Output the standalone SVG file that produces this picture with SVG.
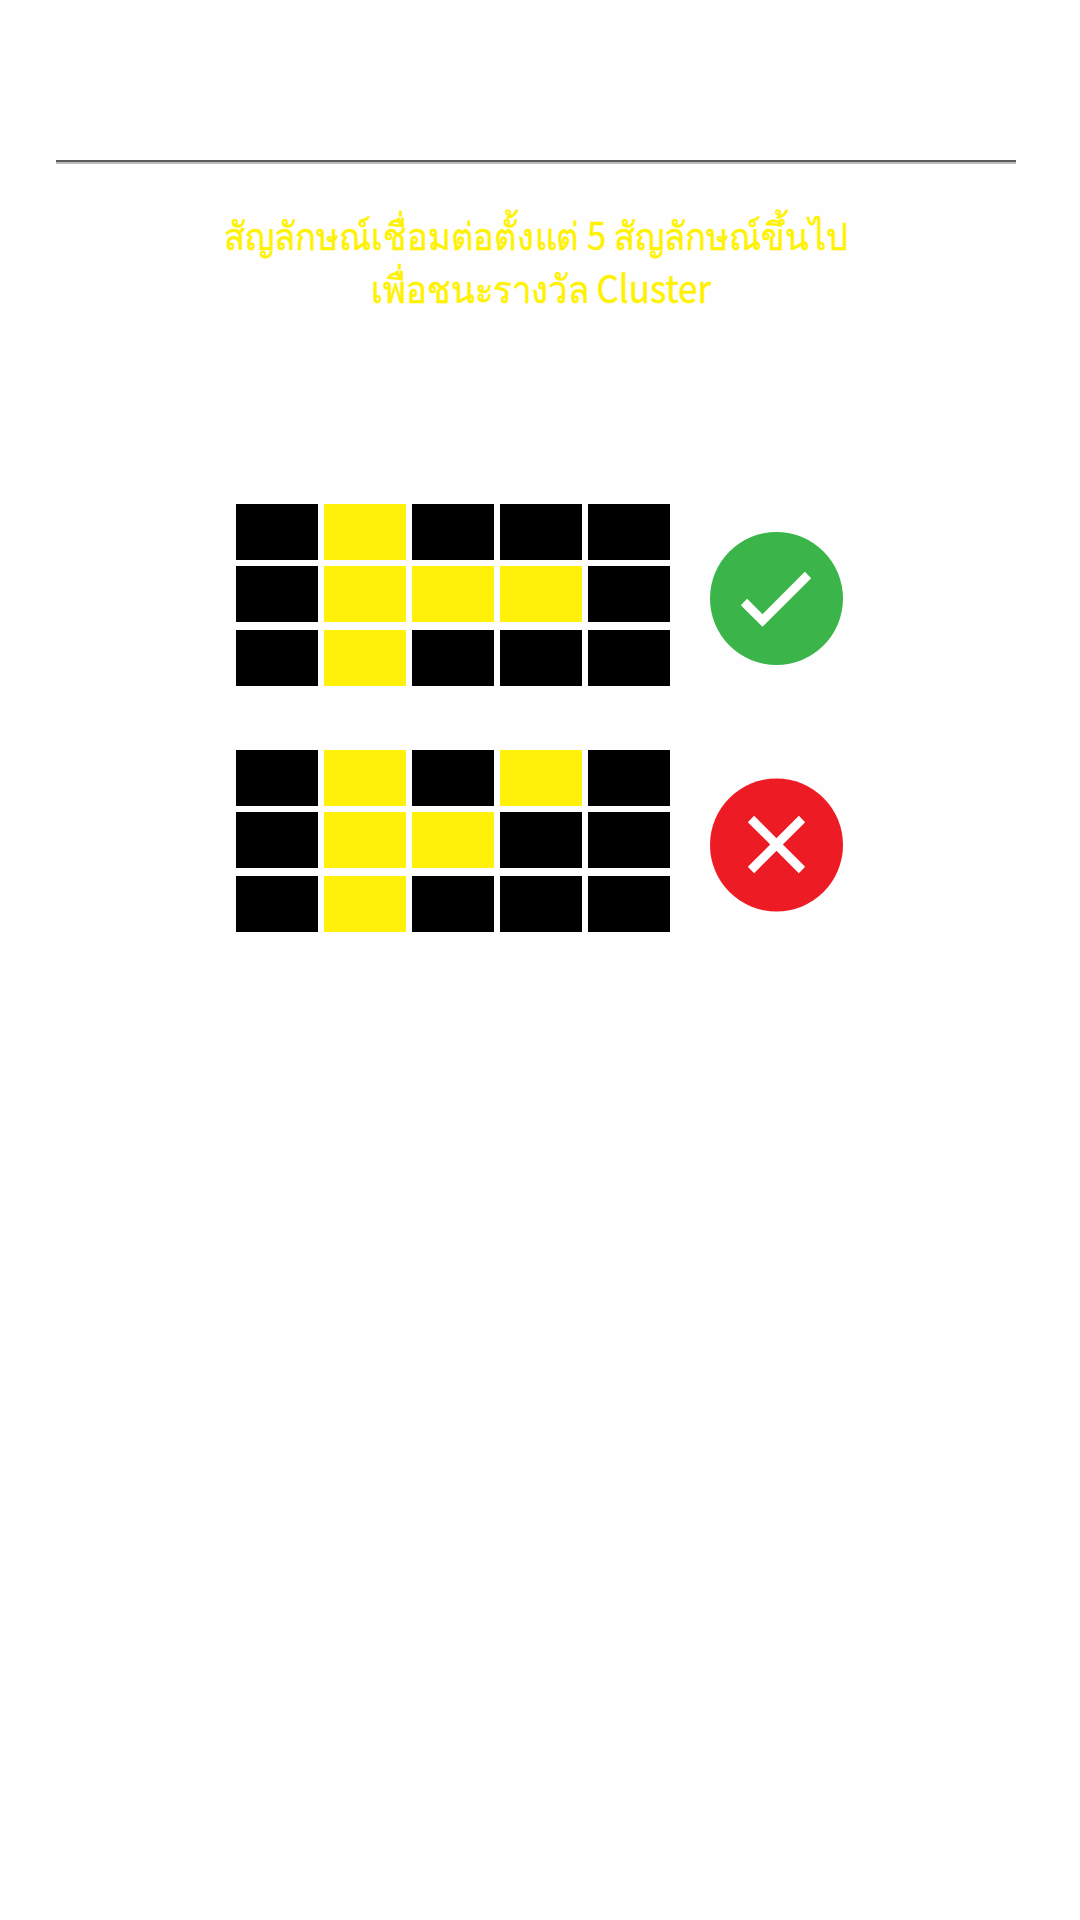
<svg xmlns="http://www.w3.org/2000/svg" width="1080" height="1920" viewBox="0 0 1080 1920">
<style>
.k{fill:#000}.y{fill:#fff10a}
.t{font-family:"Noto Sans CJK SC","Noto Sans",sans-serif;font-size:38px;font-weight:400;fill:#fff200;stroke:#fff200;stroke-width:.5;text-anchor:middle}
.m{fill:none;stroke:#fff;stroke-width:9}
</style>
<defs>
<g id="r5k"><rect class="k" x="236" width="82" height="56"/><rect class="k" x="324" width="82" height="56"/><rect class="k" x="412" width="82" height="56"/><rect class="k" x="500" width="82" height="56"/><rect class="k" x="588" width="82" height="56"/></g>
</defs>
<rect width="1080" height="1920" fill="#fefefe"/>
<g id="divider"><rect x="56" y="160" width="960" height="2" fill="#5a5a5a"/><rect x="56" y="162" width="960" height="2" fill="#b8bdb8"/></g>
<g id="title"><text class="t" x="536" y="250" textLength="624" lengthAdjust="spacingAndGlyphs">สัญลักษณ์เชื่อมต่อตั้งแต่ 5 สัญลักษณ์ขึ้นไป</text><text class="t" x="541" y="303" textLength="340" lengthAdjust="spacingAndGlyphs">เพื่อชนะรางวัล Cluster</text></g>
<g id="grid-win">
<use href="#r5k" y="504"/><use href="#r5k" y="566"/><use href="#r5k" y="630"/>
<rect class="y" x="324" y="504" width="82" height="56"/>
<rect class="y" x="324" y="566" width="82" height="56"/><rect class="y" x="412" y="566" width="82" height="56"/><rect class="y" x="500" y="566" width="82" height="56"/>
<rect class="y" x="324" y="630" width="82" height="56"/>
</g>
<g id="icon-check"><circle cx="776.5" cy="598.5" r="66.5" fill="#3bb54a"/><path class="m" d="M744 602L762.500 620.500L808 575"/></g>
<g id="grid-lose">
<use href="#r5k" y="750"/><use href="#r5k" y="812"/><use href="#r5k" y="876"/>
<rect class="y" x="324" y="750" width="82" height="56"/><rect class="y" x="500" y="750" width="82" height="56"/>
<rect class="y" x="324" y="812" width="82" height="56"/><rect class="y" x="412" y="812" width="82" height="56"/>
<rect class="y" x="324" y="876" width="82" height="56"/>
</g>
<g id="icon-cross"><circle cx="776.500" cy="845" r="66.500" fill="#ed1c24"/><path class="m" d="M751 819L802 870M802 819L751 870"/></g>
</svg>
